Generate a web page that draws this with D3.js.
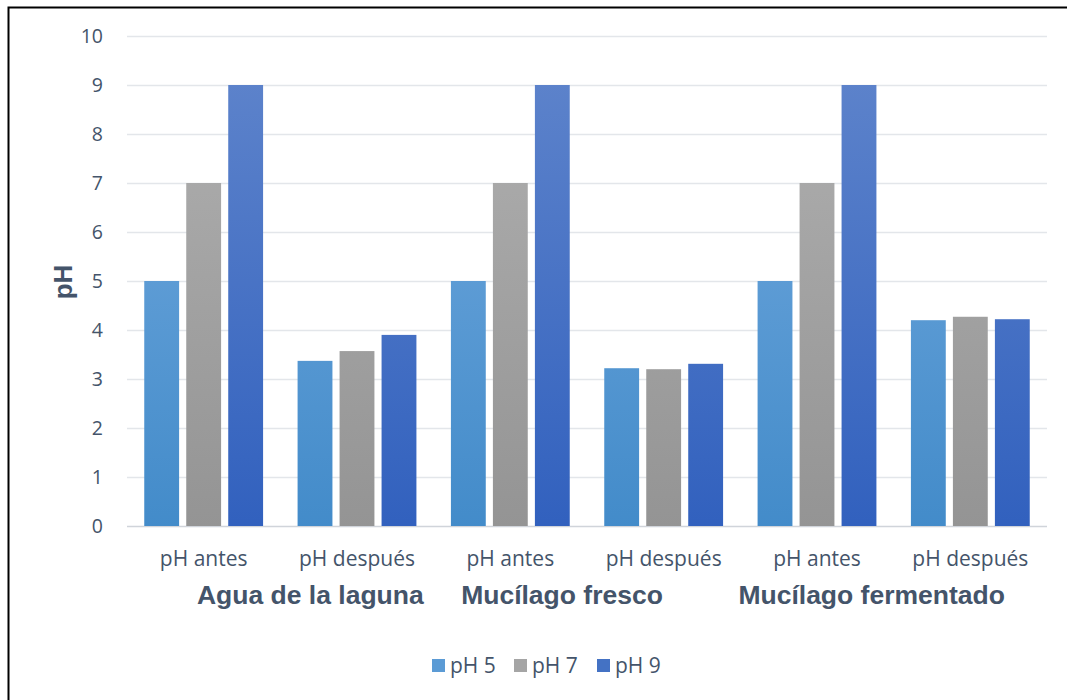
<!DOCTYPE html>
<html>
<head>
<meta charset="utf-8">
<script src="https://cdn.jsdelivr.net/npm/d3@7"></script>
<style>
  html, body { margin: 0; padding: 0; background: #fff; }
  svg { display: block; }
</style>
</head>
<body>
<svg id="chart" width="1067" height="700"></svg>
<script>
// Measurement labels (x axis) and sample groups
const categories = ["pH antes", "pH después", "pH antes", "pH después", "pH antes", "pH después"];
const groups = ["Agua de la laguna", "Mucílago fresco", "Mucílago fermentado"];
const seriesNames = ["pH 5", "pH 7", "pH 9"];

// pH values per series, one entry per category
const ph5 = [5, 3.37, 5, 3.22, 5, 4.20];
const ph7 = [7, 3.57, 7, 3.20, 7, 4.27];
const ph9 = [9, 3.90, 9, 3.31, 9, 4.22];

const yTicks = [0, 1, 2, 3, 4, 5, 6, 7, 8, 9, 10];

const series = [ph5, ph7, ph9];
const colors = {
  solid: ["#5b9bd5", "#a5a5a5", "#4472c4"],
  top:   ["#72a9de", "#afafaf", "#5d83cb"],
  bottom:["#3f89c8", "#929292", "#2e5ebd"]
};

const svg = d3.select("#chart");
const W = 1067, H = 700;
const margin = { left: 127, right: 20, top: 36, bottom: 174 };
const plotW = W - margin.left - margin.right;
const plotH = H - margin.top - margin.bottom;
const textFont = "'Open Sans', sans-serif";
const boldFont = "'Liberation Sans', Arial, sans-serif";
const textColor = "#44546a";

// outer frame
svg.append("rect")
  .attr("x", 8.5).attr("y", 7.5)
  .attr("width", W + 10).attr("height", H + 10)
  .attr("fill", "none").attr("stroke", "#000").attr("stroke-width", 2);

const defs = svg.append("defs");
series.forEach((s, i) => {
  const g = defs.append("linearGradient")
    .attr("id", "grad" + i)
    .attr("gradientUnits", "userSpaceOnUse")
    .attr("x1", 0).attr("x2", 0)
    .attr("y1", margin.top).attr("y2", margin.top + plotH);
  g.append("stop").attr("offset", "0%").attr("stop-color", colors.top[i]);
  g.append("stop").attr("offset", "100%").attr("stop-color", colors.bottom[i]);
});

const plot = svg.append("g").attr("transform", `translate(${margin.left},${margin.top})`);

const x0 = d3.scaleBand().domain(d3.range(categories.length)).range([0, plotW]).paddingInner(0.225).paddingOuter(0.1125);
const x1 = d3.scaleBand().domain(d3.range(series.length)).range([0, x0.bandwidth()]).paddingInner(0.17);
const y = d3.scaleLinear().domain([0, 10]).range([plotH, 0]);

// gridlines
plot.append("g").selectAll("line").data(yTicks).join("line")
  .attr("x1", 0).attr("x2", plotW)
  .attr("y1", d => y(d) + 0.5).attr("y2", d => y(d) + 0.5)
  .attr("stroke", d => d === 0 ? "#d0d4da" : "#e3e6ea").attr("stroke-width", 1.5);

// y tick labels
const yAxis = d3.axisLeft(y).tickValues(yTicks).tickSize(0).tickPadding(24);
const ya = plot.append("g").call(yAxis);
ya.select(".domain").remove();
ya.selectAll("text")
  .attr("font-family", textFont)
  .attr("font-size", 19.5)
  .attr("fill", textColor);

// bars
series.forEach((s, i) => {
  plot.append("g").selectAll("rect").data(s).join("rect")
    .attr("x", (d, j) => x0(j) + x1(i))
    .attr("y", d => y(d))
    .attr("width", x1.bandwidth())
    .attr("height", d => y(0) - y(d))
    .attr("fill", `url(#grad${i})`);
});

// category labels
const xAxis = d3.axisBottom(x0).tickFormat(i => categories[i]).tickSize(0).tickPadding(25);
const xa = plot.append("g").attr("transform", `translate(0,${plotH})`).call(xAxis);
xa.select(".domain").remove();
xa.selectAll("text")
  .attr("font-family", textFont)
  .attr("font-size", 21)
  .attr("fill", textColor);

// group labels (centered on each pair, nudged as in the layout)
const groupDx = [30, -25, -22];
plot.append("g").selectAll("text").data(groups).join("text")
  .attr("x", (d, k) => (x0(2 * k) + x0(2 * k + 1) + x0.bandwidth()) / 2 + groupDx[k])
  .attr("y", plotH + 78)
  .attr("text-anchor", "middle")
  .attr("font-family", boldFont)
  .attr("font-weight", "bold")
  .attr("font-size", 26.5)
  .attr("fill", textColor)
  .text(d => d);

// y axis title
svg.append("text")
  .attr("transform", `translate(72,${margin.top + plotH / 2 + 1}) rotate(-90)`)
  .attr("text-anchor", "middle")
  .attr("font-family", boldFont)
  .attr("font-weight", "bold")
  .attr("font-size", 26)
  .attr("fill", textColor)
  .text("pH");

// legend
const legend = svg.append("g").attr("transform", "translate(432,666)");
const itemW = [82, 83, 80];
let lx = 0;
seriesNames.forEach((name, i) => {
  const g = legend.append("g").attr("transform", `translate(${lx},0)`);
  g.append("rect").attr("x", 0).attr("y", -7).attr("width", 13).attr("height", 13).attr("fill", colors.solid[i]);
  g.append("text").attr("x", 18).attr("y", 0).attr("dy", "0.35em")
    .attr("font-family", textFont).attr("font-size", 21).attr("fill", textColor)
    .text(name);
  lx += itemW[i];
});
</script>
</body>
</html>
